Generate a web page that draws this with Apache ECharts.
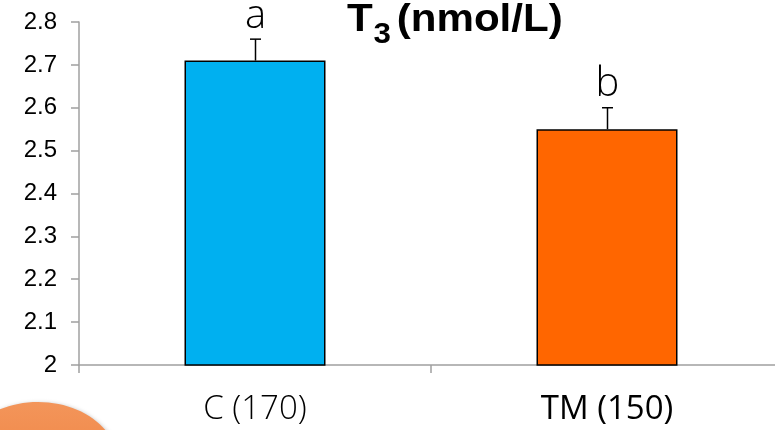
<!DOCTYPE html>
<html>
<head>
<meta charset="utf-8">
<script src="https://cdn.jsdelivr.net/npm/echarts@6/dist/echarts.min.js"></script>
<style>html,body{margin:0;padding:0;background:#fff}#c{width:775px;height:430px}</style>
</head>
<body>
<div id="c"></div>
<script>
const categories = ['C (170)', 'TM (150)'];
const means = [2.71, 2.55];
const errors = [0.05, 0.05];
const letters = ['a', 'b'];
const barColors = ['#00B0F0', '#FF6600'];
const yTicks = { min: 2, max: 2.8, interval: 0.1 };

const chart = echarts.init(document.getElementById('c'), null, { renderer: 'canvas' });

const errData = means.map((m, i) => [i, m, m + errors[i]]);
const titleFont = 'Liberation Sans, Arial';

chart.setOption({
  backgroundColor: '#fff',
  animation: false,
  grid: { left: 79, top: 22, width: 704, height: 343, outerBoundsMode: 'none', containLabel: false },
  xAxis: {
    type: 'category',
    data: [
      { value: categories[0], textStyle: { fontWeight: 300 } },
      categories[1]
    ],
    axisLine: { lineStyle: { color: '#a0a0a0', width: 1.5 } },
    axisTick: { show: true, length: 8, lineStyle: { color: '#a0a0a0', width: 1.5 } },
    axisLabel: { color: '#000', fontFamily: 'Open Sans', fontSize: 33, margin: 28, interval: 0 }
  },
  yAxis: {
    type: 'value',
    min: yTicks.min,
    max: yTicks.max,
    interval: yTicks.interval,
    splitLine: { show: false },
    axisLine: { show: true, lineStyle: { color: '#a0a0a0', width: 1.5 } },
    axisTick: { show: true, length: 8, lineStyle: { color: '#a0a0a0', width: 1.5 } },
    axisLabel: { color: '#000', fontFamily: 'Liberation Sans, Arial', fontSize: 24, margin: 22 }
  },
  series: [
    {
      type: 'bar',
      barWidth: 141,
      data: means.map((v, i) => ({ value: v, itemStyle: { color: barColors[i], borderColor: '#000', borderWidth: 1.5 } })),
      z: 2
    },
    {
      type: 'custom',
      data: errData,
      z: 3,
      renderItem: function (params, api) {
        const x = api.value(0);
        const top = api.coord([x, api.value(2)]);
        const base = api.coord([x, api.value(1)]);
        const cx = Math.round(top[0]) + 0.5;
        const capW = 5.5;
        return {
          type: 'group',
          children: [
            { type: 'line', shape: { x1: cx, y1: top[1], x2: cx, y2: base[1] }, style: { stroke: '#000', lineWidth: 1.5 } },
            { type: 'line', shape: { x1: cx - capW, y1: top[1], x2: cx + capW, y2: top[1] }, style: { stroke: '#000', lineWidth: 1.5 } },
            { type: 'text', x: cx, y: top[1] - 3, style: { text: letters[params.dataIndex], fontFamily: 'Open Sans', fontWeight: 300, fontSize: 40, fill: '#000', align: 'center', verticalAlign: 'bottom' } }
          ]
        };
      }
    }
  ],
  graphic: [
    {
      type: 'ellipse',
      shape: { cx: 38, cy: 463, rx: 80, ry: 61 },
      style: {
        fill: new echarts.graphic.LinearGradient(0, 0, 0, 1, [
          { offset: 0, color: '#F3955A' },
          { offset: 1, color: '#EE7A35' }
        ]),
        shadowBlur: 4,
        shadowColor: 'rgba(0,0,0,0.25)',
        shadowOffsetX: 1,
        shadowOffsetY: 1
      },
      z: 0
    },
    {
      type: 'group',
      x: 347,
      y: 0,
      scaleX: 1.08,
      children: [
        { type: 'text', x: 0, y: 20, style: { text: 'T', fontFamily: titleFont, fontWeight: 'bold', fontSize: 39, fill: '#000', verticalAlign: 'middle' } },
        { type: 'text', x: 24.5, y: 35, style: { text: '3', fontFamily: titleFont, fontWeight: 'bold', fontSize: 29, fill: '#000', verticalAlign: 'middle' } },
        { type: 'text', x: 46, y: 20, style: { text: '(nmol/L)', fontFamily: titleFont, fontWeight: 'bold', fontSize: 39, fill: '#000', verticalAlign: 'middle' } }
      ]
    }
  ]
});
</script>
</body>
</html>
